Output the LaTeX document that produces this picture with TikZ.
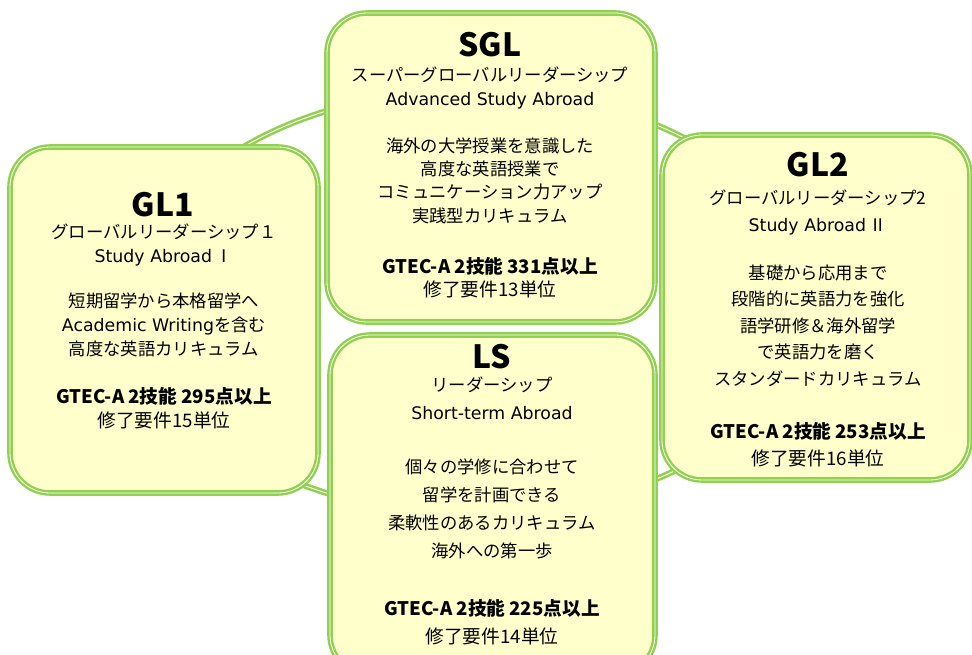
\documentclass[tikz,border=0pt]{standalone}
\usepackage{fontspec}
\setmainfont{Noto Sans CJK JP}
\newfontfamily\enfont{DejaVu Sans}
\definecolor{ringgreen}{RGB}{146,208,80}
\definecolor{boxfill}{RGB}{255,255,204}
\newcommand{\gtecline}[1]{{\fontsize{14}{17}\selectfont\bfseries GTEC-A 2技能 #1点以上}}
\newcommand{\reqline}[1]{{\fontsize{14}{17}\selectfont 修了要件#1単位}}
\tikzset{
  course/.style={draw=ringgreen, fill=boxfill, line width=1.8pt,
    double=white, double distance=0.6pt, rounded corners=30pt},
  ring/.style={draw=ringgreen, line width=1.9pt, double=white, double distance=0.7pt},
  coursetitle/.style={font=\fontsize{24}{28}\selectfont\bfseries, inner sep=0pt},
  body/.style={align=center, anchor=north, inner sep=0pt,
    font=\fontsize{13}{#1}\selectfont},
}
\begin{document}
\begin{tikzpicture}[x=0.75pt,y=-0.75pt]
  \useasboundingbox (0,0) rectangle (972,655);
  % ring behind the four courses
  \draw[ring] (472,302) ellipse [x radius=335, y radius=212];

  \node[course, minimum width=246pt, minimum height=231.75pt] (sgl) at (491,167.5) {};
  \node[course, minimum width=231pt, minimum height=259.5pt] (gl1) at (164,320) {};
  \node[course, minimum width=231pt, minimum height=258.75pt] (gl2) at (816,307.5) {};
  \node[course, minimum width=243.75pt, minimum height=255pt] (ls) at (492.5,505) {};

  % SGL
  \node[coursetitle] (sgl-title) at (490,45) {SGL};
  \node[body=17.5pt] (sgl-text) at (490,67) {%
    スーパーグローバルリーダーシップ\\
    {\enfont Advanced Study Abroad}\\[17.8pt]
    海外の大学授業を意識した\\
    高度な英語授業で\\
    コミュニケーション力アップ\\
    実践型カリキュラム\\[20.8pt]
    \gtecline{331}\\
    \reqline{13}};

  % GL1
  \node[coursetitle] (gl1-title) at (163,205) {GL1};
  \node[body=18pt] (gl1-text) at (164,224) {%
    グローバルリーダーシップ１\\
    {\enfont Study Abroad} Ⅰ\\[15.8pt]
    短期留学から本格留学へ\\
    {\enfont Academic Writing}を含む\\
    高度な英語カリキュラム\\[18pt]
    \gtecline{295}\\
    \reqline{15}};

  % GL2
  \node[coursetitle] (gl2-title) at (818,165) {GL2};
  \node[body=19.9pt] (gl2-text) at (818,190) {%
    グローバルリーダーシップ2\\
    {\enfont Study Abroad} Ⅱ\\[16pt]
    基礎から応用まで\\
    段階的に英語力を強化\\
    語学研修＆海外留学\\
    で英語力を磨く\\
    スタンダードカリキュラム\\[20pt]
    \gtecline{253}\\
    \reqline{16}};

  % LS
  \node[coursetitle] (ls-title) at (492,357) {LS};
  \node[body=21pt] (ls-text) at (492,377) {%
    リーダーシップ\\
    {\enfont Short-term Abroad}\\[19pt]
    個々の学修に合わせて\\
    留学を計画できる\\
    柔軟性のあるカリキュラム\\
    海外への第一歩\\[23pt]
    \gtecline{225}\\
    \reqline{14}};
\end{tikzpicture}
\end{document}
